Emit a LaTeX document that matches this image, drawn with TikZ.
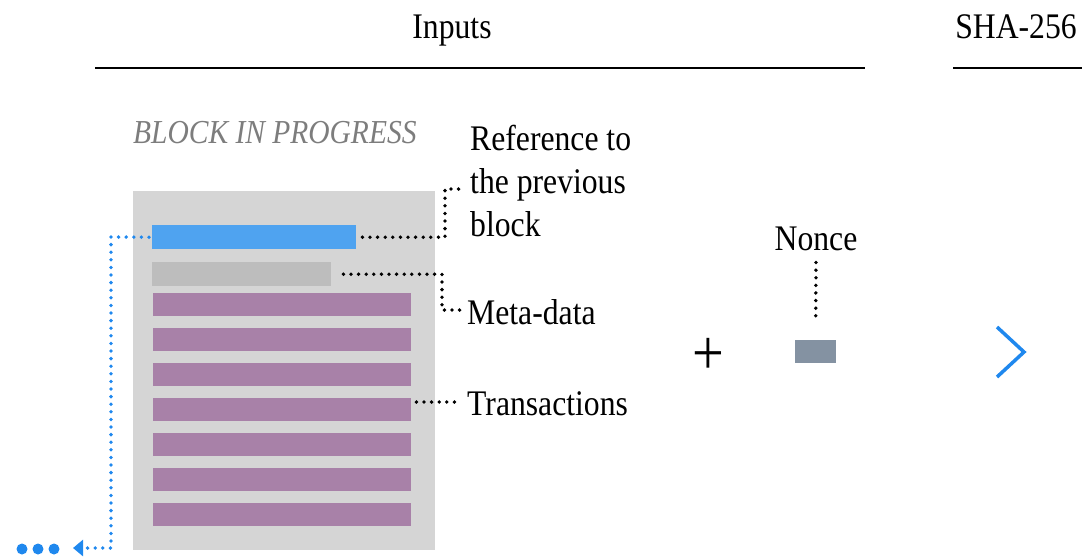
\documentclass[tikz,border=0pt]{standalone}
\usepackage{fontspec}
\setmainfont{Liberation Serif}[FakeStretch=0.88]
\usetikzlibrary{arrows.meta, positioning}

\definecolor{blockgray}{HTML}{D5D5D5}
\definecolor{metagray}{HTML}{BDBDBD}
\definecolor{prevblue}{HTML}{4FA3F0}
\definecolor{linkblue}{HTML}{1F88EE}
\definecolor{txpurple}{HTML}{A881A8}
\definecolor{noncegray}{HTML}{8492A2}
\definecolor{titlegray}{HTML}{7D7D7D}

\begin{document}
\begin{tikzpicture}[
	x=1pt, y=-1pt,
	bar/.style = {anchor=north west, inner sep=0pt, minimum height=24pt},
	txt/.style = {inner sep=0pt, font=\fontsize{36}{43}\selectfont},
	rule/.style = {line width=2pt},
	leader/.style = {line width=3.8pt, dash pattern=on 0pt off 7.6pt, line cap=round},
	link/.style = {leader, linkblue, -{Triangle[length=10pt, width=16pt]}}
]
\useasboundingbox (0,0) rectangle (1082,558);

\node[txt, anchor=base] (inputs) at (452,38) {Inputs};
\node[txt, anchor=base] (sha) at (1016,38) {SHA-256};
\draw[rule] (95,68) -- (865,68);
\draw[rule] (953,68) -- (1082,68);

\node[txt, anchor=base west, text=titlegray, font=\fontsize{33.5}{36}\itshape] (title) at (133,143) {BLOCK IN PROGRESS};

\node[bar, fill=blockgray, minimum width=302pt, minimum height=359pt] (block) at (133,191) {};
\node[bar, fill=prevblue, minimum width=204pt] (prev) at (152,225) {};
\node[bar, fill=metagray, minimum width=179pt] (meta) at (152,262) {};
\foreach \i in {1,...,7}
	\node[bar, fill=txpurple, minimum width=258pt, minimum height=23pt] (tx\i) at (153,{293+35*(\i-1)}) {};

\node[txt, anchor=base west, align=left] (reflabel) at (470,236) {Reference to\\the previous\\block};
\node[txt, anchor=base west] (metalabel) at (467,324) {Meta-data};
\node[txt, anchor=base west] (txlabel) at (467,415) {Transactions};

\coordinate (refknee) at (445,189);
\coordinate (refend) at (459,189);
\coordinate (metaknee) at (442,310);
\coordinate (metaend) at (460,310);
\coordinate (txend) at (460,402);

\draw[leader] ([xshift=6pt]prev.east) -| (refknee) -- (refend);
\draw[leader] ([xshift=12pt]meta.east) -| (metaknee) -- (metaend);
\draw[leader] ([xshift=5pt]tx4.east |- txend) -- (txend);

\node[txt, font=\fontsize{64}{64}\selectfont] (plus) at (708,356) {+};

\node[txt, anchor=base] (noncelabel) at (816,250) {Nonce};
\node[bar, fill=noncegray, minimum width=41pt, minimum height=23pt] (nonce) at (795,340) {};
\draw[leader] ([yshift=-12pt]noncelabel.south) -- ([yshift=20pt]nonce.north);

\draw[linkblue, line width=3.5pt] (997,327) -- (1024,352) -- (997,377);

\coordinate (prevturn) at (111,237);
\coordinate (tip) at (73,548);
\draw[link] ([xshift=-3pt]prev.west) -- (prevturn) |- (tip);

\foreach \x [count=\n] in {22,38,54}
	\node[circle, fill=linkblue, inner sep=0pt, minimum size=11pt] (dot\n) at (\x,549) {};

\end{tikzpicture}
\end{document}
